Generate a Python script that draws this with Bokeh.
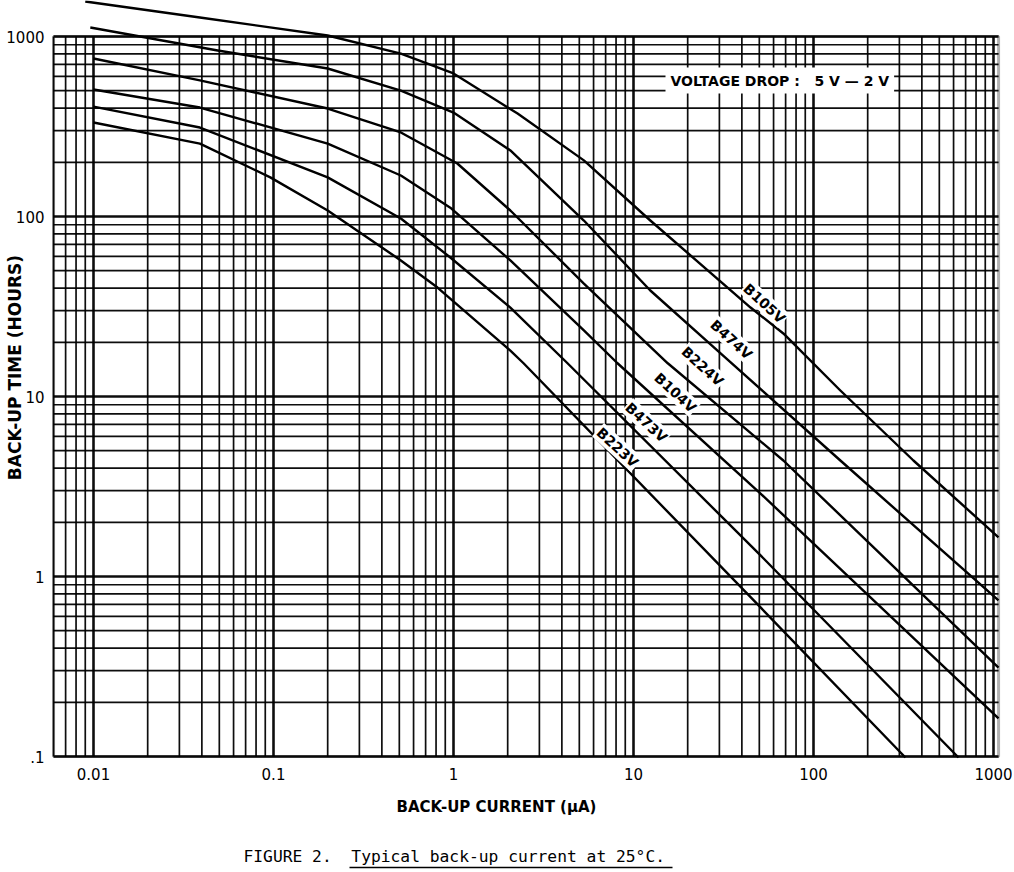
import math
from bokeh.plotting import figure
from bokeh.models import Range1d, BoxAnnotation, Label
from bokeh.embed import file_html
from bokeh.resources import INLINE
from bokeh.core.properties import value

# ---- data: back-up current (uA) -> back-up time (hours)
b105v_x = [0.009, 0.039, 0.2, 0.51, 1.0, 2.27, 5.3, 12.4, 44.7, 68, 141, 359, 1066]
b105v_y = [1565, 1275, 1013, 804, 623, 373, 205, 95, 31.2, 22.4, 10.8, 4.41, 1.65]

b474v_x = [0.0096, 0.049, 0.2, 0.51, 1.0, 2.07, 5.3, 12.4, 29.3, 141, 1066]
b474v_y = [1122, 836, 664, 501, 378, 233, 95, 38.8, 18.0, 4.41, 0.736]

b224v_x = [0.01, 0.039, 0.2, 0.51, 1.05, 2.07, 5.3, 15.5, 68, 1066]
b224v_y = [755, 570, 398, 293, 197, 108, 42.4, 15.3, 4.41, 0.312]

b104v_x = [0.01, 0.039, 0.2, 0.51, 0.96, 2.07, 5.3, 8.15, 50.8, 1066]
b104v_y = [508, 403, 254, 169, 112, 57, 23.3, 15.3, 2.89, 0.163]

b473v_x = [0.01, 0.039, 0.2, 0.51, 0.96, 2.07, 4.3, 50.8, 639]
b473v_y = [408, 312, 165, 97.5, 59.2, 31.2, 15.3, 1.31, 0.0987]

b223v_x = [0.01, 0.039, 0.096, 0.2, 0.51, 0.815, 2.07, 2.45, 50.8, 324]
b223v_y = [333, 254, 165, 108, 57, 40.3, 18.0, 15.3, 0.673, 0.0987]

series_names = ["B105V", "B474V", "B224V", "B104V", "B473V", "B223V"]
series_x = [b105v_x, b474v_x, b224v_x, b104v_x, b473v_x, b223v_x]
series_y = [b105v_y, b474v_y, b224v_y, b104v_y, b473v_y, b223v_y]

x_ticks = [0.01, 0.1, 1, 10, 100, 1000]
x_tick_labels = ["0.01", "0.1", "1", "10", "100", "1000"]
y_ticks = [0.1, 1, 10, 100, 1000]
y_tick_labels = [".1", "1", "10", "100", "1000"]

NB = "\u00a0"  # keeps the typed wide spacing in SVG text
x_title = "BACK-UP CURRENT (\u03bcA)"
y_title = "BACK-UP TIME (HOURS)"
note_text = "VOLTAGE DROP" + NB + ":" + NB * 3 + "5 V" + NB + "\u2014" + NB + "2 V"
caption_text = "FIGURE 2." + NB * 2 + "Typical back-up current at 25\u00b0C."

# ---- layout: the canvas is one log-log frame; the chart box sits inside it
W, H = 1012, 870
X_ORIGIN_PX, Y_ORIGIN_PX, PX_PER_DEC = 453.0, 576.0, 180.0   # where x=1 / y=1 fall


def px_to_x(px):
    return 10 ** ((px - X_ORIGIN_PX) / PX_PER_DEC)


def px_to_y(py):
    return 10 ** ((Y_ORIGIN_PX - py) / PX_PER_DEC)


X_LO, X_HI = 0.006, 1067      # chart box
Y_LO, Y_HI = 0.1, 1000

p = figure(x_axis_type="log", y_axis_type="log",
           x_axis_location=None, y_axis_location=None,
           x_range=Range1d(px_to_x(0), px_to_x(W)),
           y_range=Range1d(px_to_y(H), px_to_y(0)),
           width=W, height=H, min_border=0,
           output_backend="svg", toolbar_location=None)
p.outline_line_color = None
p.background_fill_color = "white"
p.border_fill_color = "white"
p.grid.visible = False

# log-paper grid, bounded by the chart box
minor_x = [k * 10.0 ** e for e in range(-3, 3) for k in range(2, 10) if X_LO * 0.99 <= k * 10.0 ** e <= X_HI]
minor_y = [k * 10.0 ** e for e in range(-1, 3) for k in range(2, 10)]
for xs_, w_ in ((minor_x, 1.7), (x_ticks, 2.6)):
    p.segment(x0=xs_, x1=xs_, y0=[Y_LO] * len(xs_), y1=[Y_HI] * len(xs_),
              line_color="black", line_width=w_, line_alpha=0.95)
for ys_, w_ in ((minor_y, 1.7), (y_ticks, 2.6)):
    p.segment(x0=[X_LO] * len(ys_), x1=[X_HI] * len(ys_), y0=ys_, y1=ys_,
              line_color="black", line_width=w_, line_alpha=0.95)

# chart border
p.add_layout(BoxAnnotation(left=X_LO, right=X_HI, bottom=Y_LO, top=Y_HI,
                           fill_color=None, line_color="black", line_width=3))

for xs, ys in zip(series_x, series_y):
    p.line(xs, ys, line_color="black", line_width=2.4, line_join="round")

# tick labels
p.text(x=x_ticks, y=[px_to_y(773)] * len(x_ticks), text=x_tick_labels,
       text_align="center", text_baseline="middle",
       text_font=value("DejaVu Sans"), text_font_size="15px", text_color="black")
p.text(x=[px_to_x(44)] * len(y_ticks), y=y_ticks, text=y_tick_labels,
       text_align="right", text_baseline="middle",
       text_font=value("DejaVu Sans"), text_font_size="15px", text_color="black")

# curve labels
label_pos = [(53.4, 32.9), (35.0, 20.7), (24.2, 14.7), (17.1, 10.5), (11.8, 7.17), (8.15, 5.21)]
for name, (lx, ly) in zip(series_names, label_pos):
    p.add_layout(Label(x=lx, y=ly, text=name, angle=-0.74,
                       text_align="center", text_baseline="middle",
                       text_font="DejaVu Sans", text_font_style="bold",
                       text_font_size="14px", text_color="black",
                       background_fill_color="white", background_fill_alpha=1.0,
                       padding=1))

p.add_layout(Label(x=px_to_x(665), y=px_to_y(80), text=note_text,
                   text_align="left", text_baseline="middle",
                   text_font="DejaVu Sans", text_font_style="bold",
                   text_font_size="14px", text_color="black",
                   background_fill_color="white", background_fill_alpha=1.0,
                   padding=5))

# axis titles and caption
p.add_layout(Label(x=px_to_x(496), y=px_to_y(806), text=x_title,
                   text_align="center", text_baseline="middle",
                   text_font="DejaVu Sans", text_font_style="bold",
                   text_font_size="15px", text_color="black"))
p.add_layout(Label(x=px_to_x(14), y=px_to_y(367), text=y_title,
                   angle=math.pi / 2, text_align="center", text_baseline="middle",
                   text_font="DejaVu Sans", text_font_style="bold",
                   text_font_size="17px", text_color="black"))
p.add_layout(Label(x=px_to_x(243), y=px_to_y(856), text=caption_text,
                   text_align="left", text_baseline="middle",
                   text_font="DejaVu Sans Mono", text_font_size="16.3px", text_color="black"))
p.segment(x0=[px_to_x(349)], y0=[px_to_y(867)], x1=[px_to_x(672)], y1=[px_to_y(867)],
          line_color="black", line_width=1.5)

open("out.html", "w").write(file_html(p, INLINE))
